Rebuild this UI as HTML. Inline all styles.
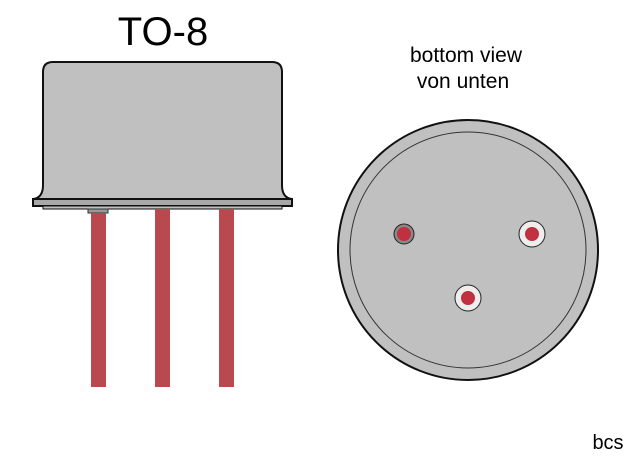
<html><body style="margin:0;background:#fff">
<svg width="640" height="461" xmlns="http://www.w3.org/2000/svg" font-family="Liberation Sans, sans-serif">
<text x="163" y="45" font-size="40" text-anchor="middle">TO-8</text>
<text x="466" y="62" font-size="21" text-anchor="middle">bottom view</text>
<text x="463" y="88" font-size="21" text-anchor="middle">von unten</text>
<text x="608" y="449" font-size="20" text-anchor="middle">bcs</text>
<path d="M43,185 L43,72 Q43,62 53,62 L272,62 Q282,62 282,72 L282,185 Q282,198 292,199 L33,199 Q43,198 43,185 Z" fill="#c0c0c0" stroke="#111" stroke-width="2"/>
<rect x="33" y="199" width="259" height="7" fill="#a8a8a8" stroke="#111" stroke-width="2"/>
<rect x="43" y="206" width="239" height="3" fill="#c0c0c0" stroke="#111" stroke-width="1"/>
<rect x="88" y="209" width="20" height="4" fill="#999" stroke="#333" stroke-width="1"/>
<rect x="91" y="213" width="15" height="174" fill="#b84a4f"/>
<rect x="155" y="209" width="15" height="178" fill="#b84a4f"/>
<rect x="219" y="209" width="15" height="178" fill="#b84a4f"/>
<circle cx="468" cy="250" r="130" fill="#c0c0c0" stroke="#111" stroke-width="2"/>
<circle cx="468" cy="250" r="118" fill="#c0c0c0" stroke="#333" stroke-width="1"/>
<circle cx="404" cy="234" r="10" fill="#888" stroke="#222" stroke-width="1"/>
<circle cx="404" cy="234" r="7" fill="#c0303f"/>
<circle cx="532" cy="234" r="13" fill="#eee" stroke="#222" stroke-width="1"/>
<circle cx="532" cy="234" r="7" fill="#c0303f"/>
<circle cx="468" cy="298" r="13" fill="#eee" stroke="#222" stroke-width="1"/>
<circle cx="468" cy="298" r="7" fill="#c0303f"/>
</svg>
</body></html>
